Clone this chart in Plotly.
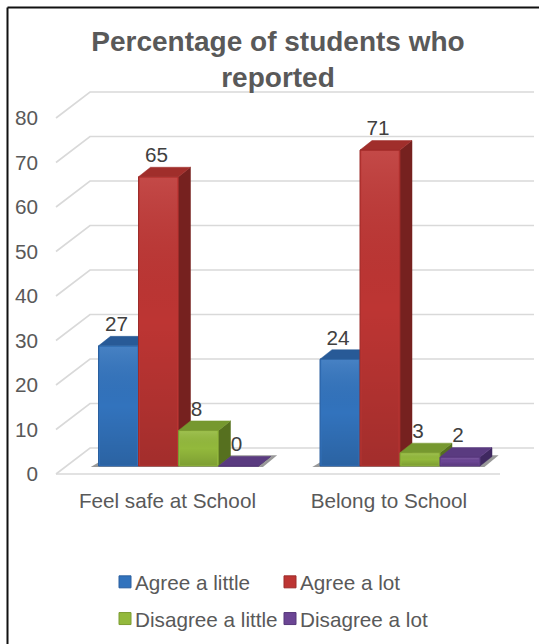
import plotly.graph_objects as go

categories = ["Feel safe at School", "Belong to School"]
series_names = ["Agree a little", "Agree a lot", "Disagree a little", "Disagree a lot"]
agree_little = [27, 24]
agree_lot = [65, 71]
disagree_little = [8, 3]
disagree_lot = [0, 2]
series_values = [agree_little, agree_lot, disagree_little, disagree_lot]
tick_values = [0, 10, 20, 30, 40, 50, 60, 70, 80]
title_text = "Percentage of students who<br>reported"

front_colors = ["#3273bd", "#bd3533", "#93b93c", "#6b4594"]
edge_colors = ["#2a5f9e", "#9c2c2a", "#7c9c32", "#57387a"]
side_colors = ["#234f85", "#76211f", "#56701f", "#3f2860"]
top_colors = ["#285a97", "#a02e2b", "#76982f", "#5a3b80"]

W, H = 539, 644
ML, MR, MT, PB = 42, 5, 78, 486          # plot-area pixel box
PX_PER_X = 221.5                         # pixels per category step
PX_PER_Y = 4.45                          # pixels per value unit
X0_PX, Y0_PX = 178.5, 466                # pixel of category 0, value 0
BAR_W = 40 / PX_PER_X
DX, DY = 12 / PX_PER_X, 9.5 / PX_PER_Y   # bar depth
TEXT_FONT = "Liberation Sans, Arial, sans-serif"
GREY = "#595959"
FS = 20.7

x_rng = [(ML - X0_PX) / PX_PER_X, (W - MR - X0_PX) / PX_PER_X]
y_rng = [(Y0_PX - PB) / PX_PER_Y, (Y0_PX - MT) / PX_PER_Y]
FRONT_DY, BACK_DY = -8 / PX_PER_Y, 18 / PX_PER_Y
LEFT_FRONT = (56 - X0_PX) / PX_PER_X
LEFT_BACK = (90 - X0_PX) / PX_PER_X
RIGHT_FRONT = (500 - X0_PX) / PX_PER_X
RIGHT_BACK = (534 - X0_PX) / PX_PER_X


def poly(points):
    return "M" + "L".join(f"{x:.5f},{y:.5f}" for x, y in points) + "Z"


shapes = []
# wall and floor grid, derived from the axis ticks
for v in tick_values:
    shapes.append(dict(type="path", layer="below", xref="x", yref="y",
                       path=f"M{LEFT_FRONT:.5f},{v + FRONT_DY:.5f}L{LEFT_BACK:.5f},{v + BACK_DY:.5f}"
                            f"L{RIGHT_BACK:.5f},{v + BACK_DY:.5f}",
                       line=dict(color="#d9d9d9", width=1.6)))
shapes.append(dict(type="path", layer="below", xref="x", yref="y",
                   path=f"M{LEFT_FRONT:.5f},{FRONT_DY:.5f}L{RIGHT_FRONT:.5f},{FRONT_DY:.5f}",
                   line=dict(color="#d9d9d9", width=1.6)))

# soft floor shadow and visible depth faces of every column
n = len(series_values)
for c in range(len(categories)):
    left = c - n * BAR_W / 2
    right = c + n * BAR_W / 2
    shapes.append(dict(type="path", layer="below", xref="x", yref="y",
                       path=poly([(left - 0.035, -0.2), (right + 0.02, -0.2),
                                  (right + DX + 0.03, DY + 0.3), (left + DX, DY + 0.3)]),
                       fillcolor="rgba(70,70,70,0.55)", line=dict(width=0)))
    for s in range(n):
        v = series_values[s][c]
        x0 = left + s * BAR_W
        x1 = x0 + BAR_W
        shapes.append(dict(type="path", layer="below", xref="x", yref="y",
                           path=poly([(x1, 0), (x1 + DX, DY), (x1 + DX, v + DY), (x1, v)]),
                           fillcolor=side_colors[s], line=dict(color=side_colors[s], width=0.5)))
        shapes.append(dict(type="path", layer="below", xref="x", yref="y",
                           path=poly([(x0, v), (x0 + DX, v + DY), (x1 + DX, v + DY), (x1, v)]),
                           fillcolor=top_colors[s], line=dict(color=top_colors[s], width=0.5)))

# chart frame: only the top and left edges show
shapes.append(dict(type="line", xref="paper", yref="paper",
                   x0=(7.5 - ML) / (W - ML - MR), x1=(W - ML) / (W - ML - MR),
                   y0=(PB - 7.5) / (PB - MT), y1=(PB - 7.5) / (PB - MT),
                   line=dict(color="#111111", width=2)))
shapes.append(dict(type="line", xref="paper", yref="paper",
                   x0=(7.5 - ML) / (W - ML - MR), x1=(7.5 - ML) / (W - ML - MR),
                   y0=(PB - 7.5) / (PB - MT), y1=(PB - H) / (PB - MT),
                   line=dict(color="#111111", width=2)))

fig = go.Figure()
positions = [i for i in range(len(categories))]
legend_ids = ["legend", "legend2", "legend3", "legend4"]
for s, name in enumerate(series_names):
    fig.add_trace(go.Bar(
        name=name, x=positions, y=series_values[s],
        marker=dict(color=front_colors[s], line=dict(color=edge_colors[s], width=1)),
        legend=legend_ids[s], hoverinfo="x+y+name",
    ))

# vertical shading on the front faces
for s in range(n):
    for c in range(len(categories)):
        v = series_values[s][c]
        if v <= 0:
            continue
        x0 = c - n * BAR_W / 2 + s * BAR_W
        fig.add_trace(go.Scatter(
            x=[x0 + 0.006, x0 + BAR_W - 0.006, x0 + BAR_W - 0.006, x0 + 0.006, x0 + 0.006],
            y=[0.2, 0.2, v - 0.2, v - 0.2, 0.2], mode="lines", line=dict(width=0),
            fill="toself", showlegend=False, hoverinfo="skip",
            fillgradient=dict(type="vertical",
                              colorscale=[[0, "rgba(0,0,0,0.14)"], [0.5, "rgba(0,0,0,0)"],
                                          [1, "rgba(255,255,255,0.10)"]]),
        ))

# value labels sit above the back edge of each column top
lx, ly, lt = [], [], []
for c in range(len(categories)):
    for s in range(n):
        v = series_values[s][c]
        lx.append(c - n * BAR_W / 2 + (s + 0.5) * BAR_W - 2 / PX_PER_X)
        ly.append(v + DY)
        lt.append(str(v))
fig.add_trace(go.Scatter(x=lx, y=ly, text=lt, mode="text", textposition="top center",
                         textfont=dict(family=TEXT_FONT, size=FS, color="#404040"),
                         showlegend=False, hoverinfo="skip"))


def legend_box(px_left, row_y):
    return dict(orientation="h", x=(px_left - ML) / (W - ML - MR), y=row_y, xanchor="left", yanchor="middle",
                font=dict(size=FS, color=GREY), bgcolor="rgba(0,0,0,0)")


ROW1, ROW2 = -0.235, -0.325
fig.update_layout(
    width=W, height=H, autosize=False,
    margin=dict(l=ML, r=MR, t=MT, b=H - PB, pad=0),
    paper_bgcolor="white", plot_bgcolor="rgba(0,0,0,0)",
    barmode="group", bargap=1 - n * BAR_W, bargroupgap=0,
    title=dict(text=title_text, x=278 / W, xref="container", xanchor="center", y=1 - 51 / H, yanchor="middle",
               font=dict(family=TEXT_FONT, size=28, color=GREY, weight="bold")),
    font=dict(family=TEXT_FONT, color=GREY),
    xaxis=dict(range=x_rng, tickmode="array", tickvals=[i - 0.05 for i in positions], ticktext=categories,
               showgrid=False, zeroline=False, showline=False, ticks="", tickfont=dict(size=FS, color=GREY)),
    yaxis=dict(range=y_rng, tickmode="array", tickvals=[v + FRONT_DY for v in tick_values],
               ticktext=[str(v) for v in tick_values], showgrid=False, zeroline=False, showline=False,
               ticks="", ticklabelstandoff=3, tickfont=dict(size=FS, color=GREY)),
    shapes=shapes,
    legend=legend_box(95, ROW1),
    legend2=legend_box(260, ROW1),
    legend3=legend_box(95, ROW2),
    legend4=legend_box(260, ROW2),
)
# page flush to the window; legend swatches sit closer to their text than Plotly's default gap
post = ("document.body.style.margin='0';"
        "document.querySelectorAll('.legendsymbols').forEach(function(e){"
        "e.setAttribute('transform','translate(10,0)');});")
fig.write_html("out.html", post_script=post, config=dict(displayModeBar=False))
